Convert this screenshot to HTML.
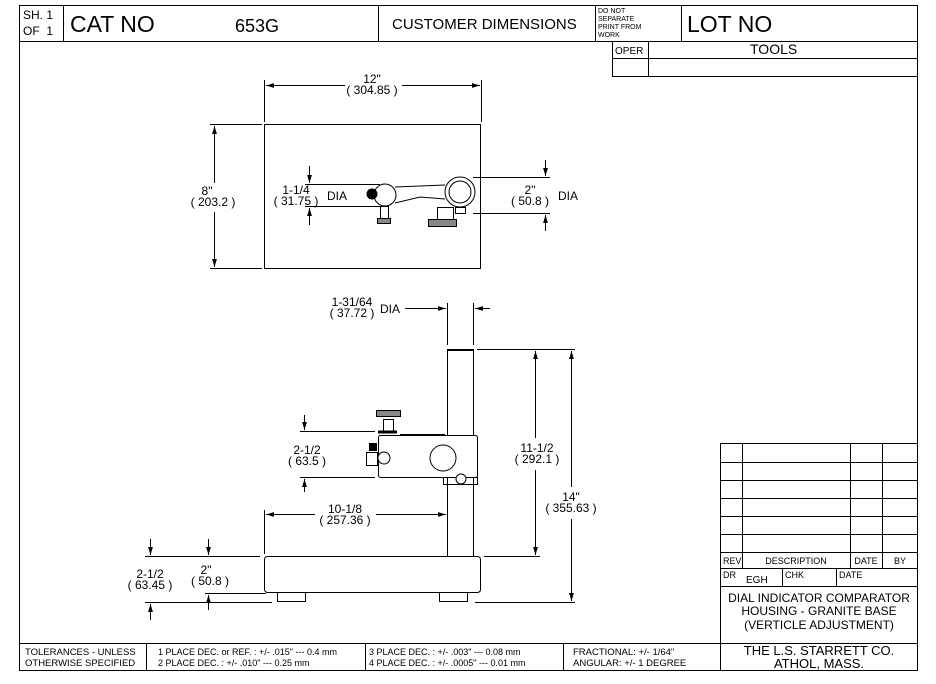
<!DOCTYPE html>
<html><head><style>
html,body{margin:0;padding:0;background:#fff}
svg{display:block}
text{font-family:"Liberation Sans",sans-serif;fill:#000}
</style></head><body>
<svg width="936" height="684" viewBox="0 0 936 684" xmlns="http://www.w3.org/2000/svg">
<defs>
<marker id="a" viewBox="0 0 10 10" refX="10" refY="5" markerWidth="8" markerHeight="8" orient="auto-start-reverse"><path d="M0,2 L10,5 L0,8 z" fill="#000"/></marker>
</defs>
<g fill="none" stroke="#000" stroke-width="1">
<rect x="19.5" y="5.5" width="898" height="665"/>
<line x1="19" y1="41.5" x2="918" y2="41.5"/>
<line x1="63.5" y1="5" x2="63.5" y2="41"/>
<line x1="378.5" y1="5" x2="378.5" y2="41"/>
<line x1="595.5" y1="5" x2="595.5" y2="41"/>
<line x1="681.5" y1="5" x2="681.5" y2="41"/>
<line x1="612.5" y1="41" x2="612.5" y2="76"/>
<line x1="648.5" y1="41" x2="648.5" y2="76"/>
<line x1="612" y1="58.5" x2="918" y2="58.5"/>
<line x1="612" y1="76.5" x2="918" y2="76.5"/>
<line x1="19" y1="643.5" x2="918" y2="643.5"/>
<line x1="146.5" y1="643" x2="146.5" y2="670"/>
<line x1="365.5" y1="643" x2="365.5" y2="670"/>
<line x1="563.5" y1="643" x2="563.5" y2="670"/>
<line x1="720.5" y1="443" x2="720.5" y2="670"/>
<line x1="720" y1="443.5" x2="918" y2="443.5"/>
<line x1="720" y1="462.5" x2="918" y2="462.5"/>
<line x1="720" y1="480.5" x2="918" y2="480.5"/>
<line x1="720" y1="498.5" x2="918" y2="498.5"/>
<line x1="720" y1="516.5" x2="918" y2="516.5"/>
<line x1="720" y1="534.5" x2="918" y2="534.5"/>
<line x1="720" y1="552.5" x2="918" y2="552.5"/>
<line x1="720" y1="568.5" x2="918" y2="568.5"/>
<line x1="720" y1="586.5" x2="918" y2="586.5"/>
<line x1="742.5" y1="443" x2="742.5" y2="568"/>
<line x1="850.5" y1="443" x2="850.5" y2="568"/>
<line x1="882.5" y1="443" x2="882.5" y2="568"/>
<line x1="782.5" y1="568" x2="782.5" y2="586"/>
<line x1="836.5" y1="568" x2="836.5" y2="586"/>

<rect x="264.5" y="124.5" width="216" height="144"/>
<line x1="264.5" y1="80" x2="264.5" y2="122"/>
<line x1="481.5" y1="80" x2="481.5" y2="122"/>
<line x1="266" y1="85.5" x2="345" y2="85.5" marker-start="url(#a)"/>
<line x1="402" y1="85.5" x2="480" y2="85.5" marker-end="url(#a)"/>
<line x1="210" y1="124.5" x2="262" y2="124.5"/>
<line x1="210" y1="268.5" x2="262" y2="268.5"/>
<line x1="214.5" y1="126" x2="214.5" y2="183" marker-start="url(#a)"/>
<line x1="214.5" y1="212" x2="214.5" y2="267" marker-end="url(#a)"/>
<line x1="305" y1="184.5" x2="380" y2="184.5"/>
<line x1="305" y1="206.5" x2="380" y2="206.5"/>
<line x1="309.5" y1="166" x2="309.5" y2="183" marker-end="url(#a)"/>
<line x1="309.5" y1="225" x2="309.5" y2="208" marker-end="url(#a)"/>
<circle cx="385" cy="195" r="11"/>
<circle cx="372" cy="194" r="5" fill="#000"/>
<path d="M395,187 L445,185 M395,203 L420,197 L445,199"/>
<circle cx="460" cy="192" r="15"/>
<circle cx="460" cy="192" r="11"/>
<rect x="380.5" y="206.5" width="8" height="12"/>
<rect x="377.5" y="218.5" width="13" height="5" fill="#888"/>
<rect x="437.5" y="207.5" width="16" height="12"/>
<rect x="428.5" y="219.5" width="28" height="7" fill="#888"/>
<rect x="455.5" y="207.5" width="10" height="6"/>
<line x1="473" y1="177.5" x2="550" y2="177.5"/>
<line x1="473" y1="213.5" x2="550" y2="213.5"/>
<line x1="545.5" y1="160" x2="545.5" y2="176" marker-end="url(#a)"/>
<line x1="545.5" y1="231" x2="545.5" y2="215" marker-end="url(#a)"/>

<rect x="264.5" y="556.5" width="216" height="36" rx="3"/>
<rect x="277.5" y="592.5" width="28" height="9"/>
<rect x="439.5" y="592.5" width="28" height="9"/>
<rect x="447.5" y="349.5" width="26" height="207"/>
<line x1="447" y1="350" x2="473" y2="350" stroke-width="2"/>
<rect x="378.5" y="435.5" width="99" height="42" rx="2" fill="#fff"/>
<rect x="443.5" y="477.5" width="34" height="7"/>
<circle cx="461" cy="479" r="5" fill="#fff"/>
<circle cx="443" cy="458" r="13"/>
<circle cx="384" cy="458" r="6" fill="#fff"/>
<rect x="366.5" y="452.5" width="11" height="13"/>
<rect x="369.5" y="443.5" width="7" height="7" fill="#000"/>
<rect x="376.5" y="410.5" width="24" height="6" fill="#888"/>
<rect x="383.5" y="419.5" width="10" height="12"/>
<line x1="378" y1="432" x2="397" y2="432" stroke-width="3"/>
<line x1="400" y1="435" x2="445" y2="435" stroke-width="2"/>
<line x1="447.5" y1="303" x2="447.5" y2="345"/>
<line x1="473.5" y1="303" x2="473.5" y2="345"/>
<line x1="405" y1="308.5" x2="446" y2="308.5" marker-end="url(#a)"/>
<line x1="490" y1="308.5" x2="475" y2="308.5" marker-end="url(#a)"/>
<line x1="477" y1="349.5" x2="575" y2="349.5"/>
<line x1="484" y1="556.5" x2="540" y2="556.5"/>
<line x1="475" y1="602.5" x2="575" y2="602.5"/>
<line x1="535.5" y1="351" x2="535.5" y2="438" marker-start="url(#a)"/>
<line x1="535.5" y1="470" x2="535.5" y2="555" marker-end="url(#a)"/>
<line x1="571.5" y1="351" x2="571.5" y2="487" marker-start="url(#a)"/>
<line x1="571.5" y1="519" x2="571.5" y2="601" marker-end="url(#a)"/>
<line x1="300" y1="431.5" x2="375" y2="431.5"/>
<line x1="300" y1="477.5" x2="375" y2="477.5"/>
<line x1="304.5" y1="415" x2="304.5" y2="430" marker-end="url(#a)"/>
<line x1="304.5" y1="492" x2="304.5" y2="479" marker-end="url(#a)"/>
<line x1="264.5" y1="510" x2="264.5" y2="554"/>
<line x1="266" y1="514.5" x2="315" y2="514.5" marker-start="url(#a)"/>
<line x1="376" y1="514.5" x2="446" y2="514.5" marker-end="url(#a)"/>
<line x1="145" y1="556.5" x2="260" y2="556.5"/>
<line x1="205" y1="593.5" x2="266" y2="593.5"/>
<line x1="145" y1="602.5" x2="272" y2="602.5"/>
<line x1="150.5" y1="539" x2="150.5" y2="555" marker-end="url(#a)"/>
<line x1="150.5" y1="620" x2="150.5" y2="604" marker-end="url(#a)"/>
<line x1="208.5" y1="539" x2="208.5" y2="555" marker-end="url(#a)"/>
<line x1="208.5" y1="610" x2="208.5" y2="595" marker-end="url(#a)"/>
</g>

<g font-size="11">
<text x="23" y="19" font-size="12">SH. 1</text>
<text x="23" y="35" font-size="12">OF&#160; 1</text>
<text x="70" y="32" font-size="23">CAT NO</text>
<text x="235" y="32" font-size="18">653G</text>
<text x="392" y="29" font-size="15">CUSTOMER DIMENSIONS</text>
<text x="598" y="13" font-size="7">DO NOT</text>
<text x="598" y="21" font-size="7">SEPARATE</text>
<text x="598" y="29" font-size="7">PRINT FROM</text>
<text x="598" y="37" font-size="7">WORK</text>
<text x="687" y="32" font-size="23">LOT NO</text>
<text x="615" y="54" font-size="10">OPER</text>
<text x="750" y="54" font-size="14">TOOLS</text>
<text x="372" y="83" text-anchor="middle" font-size="12">12"</text>
<text x="372" y="94" text-anchor="middle" font-size="12">( 304.85 )</text>
<text x="207" y="195" text-anchor="middle" font-size="12">8"</text>
<text x="213" y="206" text-anchor="middle" font-size="12">( 203.2 )</text>
<text x="296" y="194" text-anchor="middle" font-size="12">1-1/4</text>
<text x="296" y="205" text-anchor="middle" font-size="12">( 31.75 )</text>
<text x="327" y="200" font-size="12">DIA</text>
<text x="530" y="194" text-anchor="middle" font-size="12">2"</text>
<text x="530" y="205" text-anchor="middle" font-size="12">( 50.8 )</text>
<text x="558" y="200" font-size="12">DIA</text>
<text x="352" y="306" text-anchor="middle" font-size="12">1-31/64</text>
<text x="352" y="317" text-anchor="middle" font-size="12">( 37.72 )</text>
<text x="380" y="313" font-size="12">DIA</text>
<text x="307" y="454" text-anchor="middle" font-size="12">2-1/2</text>
<text x="307" y="465" text-anchor="middle" font-size="12">( 63.5 )</text>
<text x="537" y="452" text-anchor="middle" font-size="12">11-1/2</text>
<text x="537" y="463" text-anchor="middle" font-size="12">( 292.1 )</text>
<text x="571" y="501" text-anchor="middle" font-size="12">14"</text>
<text x="571" y="512" text-anchor="middle" font-size="12">( 355.63 )</text>
<text x="345" y="513" text-anchor="middle" font-size="12">10-1/8</text>
<text x="345" y="524" text-anchor="middle" font-size="12">( 257.36 )</text>
<text x="150" y="578" text-anchor="middle" font-size="12">2-1/2</text>
<text x="150" y="589" text-anchor="middle" font-size="12">( 63.45 )</text>
<text x="206" y="574" text-anchor="middle" font-size="12">2"</text>
<text x="210" y="585" text-anchor="middle" font-size="12">( 50.8 )</text>
<text x="723" y="564" font-size="9">REV</text>
<text x="796" y="564" text-anchor="middle" font-size="9">DESCRIPTION</text>
<text x="866" y="564" text-anchor="middle" font-size="9">DATE</text>
<text x="900" y="564" text-anchor="middle" font-size="9">BY</text>
<text x="723" y="578" font-size="9">DR</text>
<text x="746" y="583" font-size="10">EGH</text>
<text x="785" y="578" font-size="9">CHK</text>
<text x="839" y="578" font-size="9">DATE</text>
<text x="819" y="602" text-anchor="middle" font-size="12">DIAL INDICATOR COMPARATOR</text>
<text x="819" y="615" text-anchor="middle" font-size="12">HOUSING - GRANITE BASE</text>
<text x="819" y="629" text-anchor="middle" font-size="12">(VERTICLE ADJUSTMENT)</text>
<text x="819" y="655" text-anchor="middle" font-size="13">THE L.S. STARRETT CO.</text>
<text x="819" y="668" text-anchor="middle" font-size="13">ATHOL, MASS.</text>
<text x="25" y="655" font-size="9.5">TOLERANCES - UNLESS</text>
<text x="25" y="666" font-size="9.5">OTHERWISE SPECIFIED</text>
<text x="158" y="655" font-size="9">1 PLACE DEC. or REF. :  +/- .015" --- 0.4 mm</text>
<text x="158" y="666" font-size="9">2 PLACE DEC. :  +/- .010" --- 0.25 mm</text>
<text x="369" y="655" font-size="9">3 PLACE DEC. :  +/- .003" --- 0.08 mm</text>
<text x="369" y="666" font-size="9">4 PLACE DEC. :  +/- .0005" --- 0.01 mm</text>
<text x="573" y="655" font-size="9.5">FRACTIONAL: +/- 1/64"</text>
<text x="573" y="666" font-size="9.5">ANGULAR:  +/- 1 DEGREE</text>
</g>
</svg>
</body></html>
